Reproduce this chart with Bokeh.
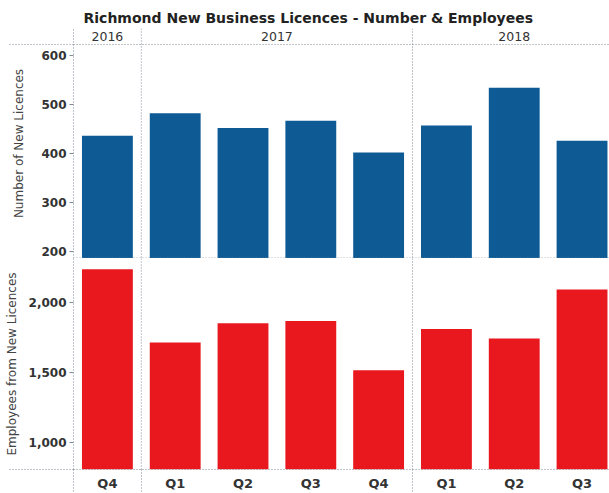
from bokeh.plotting import figure
from bokeh.models import Range1d, FixedTicker, Span, NumeralTickFormatter
from bokeh.layouts import column
from bokeh.core.properties import value
from bokeh.embed import file_html
from bokeh.resources import INLINE

# ---- data ----
title_text = "Richmond New Business Licences - Number & Employees"
quarters = ["Q4", "Q1", "Q2", "Q3", "Q4", "Q1", "Q2", "Q3"]
years = ["2016", "2017", "2018"]
year_counts = [1, 4, 3]
licences = [436, 482, 452, 467, 402, 457, 534, 426]
employees = [2240, 1715, 1853, 1869, 1516, 1811, 1743, 2095]
licence_ticks = [200, 300, 400, 500, 600]
employee_ticks = [1000, 1500, 2000]

# ---- derived positions ----
xs = [i + 0.5 for i in range(len(quarters))]
bounds = [0]
for c in year_counts:
    bounds.append(bounds[-1] + c)
year_centers = [(bounds[i] + bounds[i + 1]) / 2 for i in range(len(years))]
separators = bounds[:-1]

BLUE = "#0d5a95"
RED = "#e8181e"
LINE = "#7f8a94"
DASH = "1 2"
FONT = "DejaVu Sans"
TXT = "#333333"
LEFT = 73
LEFT_EXT = 64
W = 609

x_range = Range1d(0, 7.905)

# ---- top panel ----
TOP_Y0, TOP_Y1 = 185.7, 655.0
HEADER_LINE = 622.3
HEADER_TEXT = 638.7

p1 = figure(width=W, height=258, x_range=x_range, y_range=Range1d(TOP_Y0, TOP_Y1),
            output_backend="svg", toolbar_location=None, x_axis_location=None,
            min_border_left=LEFT, min_border_right=0, min_border_top=28, min_border_bottom=0,
            title=title_text)
p1.title.text_font = FONT
p1.title.text_font_size = "14px"
p1.title.text_font_style = "bold"
p1.title.text_color = "#222222"
p1.title.align = "left"
p1.title.offset = 10
p1.title.standoff = 6

p1.vbar(x=xs, top=licences, bottom=0, width=0.75, fill_color=BLUE, line_color=None)
p1.text(x=year_centers, y=[HEADER_TEXT] * len(years), text=years,
        text_font=value(FONT), text_font_size="12.5px", text_color=TXT,
        text_align="center", text_baseline="middle")
for s in separators[1:]:
    p1.add_layout(Span(location=s, dimension="height", line_color=LINE,
                       line_dash=DASH, line_width=1))
p1.add_layout(Span(location=HEADER_LINE, dimension="width", line_color=LINE,
                   line_dash=DASH, line_width=1))
p1.add_layout(Span(location=TOP_Y0 + 1.0, dimension="width", line_color=LINE,
                   line_dash=DASH, line_width=1))

ya = p1.yaxis[0]
ya.ticker = FixedTicker(ticks=licence_ticks, minor_ticks=[HEADER_LINE, TOP_Y0 + 1.0])
ya.axis_label = "Number of New Licences"
ya.axis_label_text_font = FONT
ya.axis_label_text_font_size = "12px"
ya.axis_label_text_font_style = "normal"
ya.axis_label_text_color = "#444444"
ya.axis_label_standoff = 12
ya.major_label_text_font = FONT
ya.major_label_text_font_size = "12px"
ya.major_label_text_font_style = "bold"
ya.major_label_text_color = TXT
ya.major_label_standoff = 7 - LEFT_EXT
ya.major_tick_out = 4
ya.major_tick_in = 0
ya.major_tick_line_color = LINE
ya.minor_tick_out = LEFT_EXT
ya.minor_tick_in = 0
ya.minor_tick_line_color = LINE
ya.minor_tick_line_dash = DASH
ya.axis_line_color = LINE
ya.axis_line_dash = DASH

p1.xgrid.visible = False
p1.ygrid.visible = False
p1.outline_line_color = None

# ---- bottom panel ----
BOT_Y0, BOT_Y1 = 803.0, 2318.0
STUB = 22
p2 = figure(width=W, height=235, x_range=x_range, y_range=Range1d(BOT_Y0, BOT_Y1),
            output_backend="svg", toolbar_location=None,
            min_border_left=LEFT, min_border_right=0, min_border_top=0, min_border_bottom=STUB)
p2.vbar(x=xs, top=employees, bottom=0, width=0.75, fill_color=RED, line_color=None)
for s in separators[1:]:
    p2.add_layout(Span(location=s, dimension="height", line_color=LINE,
                       line_dash=DASH, line_width=1))

yb = p2.yaxis[0]
yb.ticker = FixedTicker(ticks=employee_ticks, minor_ticks=[BOT_Y0 + 3.5])
yb.formatter = NumeralTickFormatter(format="0,0")
yb.axis_label = "Employees from New Licences"
yb.axis_label_text_font = FONT
yb.axis_label_text_font_size = "12px"
yb.axis_label_text_font_style = "normal"
yb.axis_label_text_color = "#444444"
yb.axis_label_standoff = 7
yb.major_label_text_font = FONT
yb.major_label_text_font_size = "12px"
yb.major_label_text_font_style = "bold"
yb.major_label_text_color = TXT
yb.major_label_standoff = 7 - LEFT_EXT
yb.major_tick_out = 4
yb.major_tick_in = 0
yb.major_tick_line_color = LINE
yb.minor_tick_out = LEFT_EXT
yb.minor_tick_in = 0
yb.minor_tick_line_color = LINE
yb.minor_tick_line_dash = DASH
yb.axis_line_color = LINE
yb.axis_line_dash = DASH

xb = p2.xaxis[0]
xb.ticker = FixedTicker(ticks=xs, minor_ticks=separators)
xb.major_label_overrides = {x: q for x, q in zip(xs, quarters)}
xb.major_label_text_font = FONT
xb.major_label_text_font_size = "13px"
xb.major_label_text_font_style = "bold"
xb.major_label_text_color = TXT
xb.major_label_standoff = 6 - STUB
xb.major_tick_out = 0
xb.major_tick_in = 0
xb.minor_tick_out = STUB
xb.minor_tick_in = 0
xb.minor_tick_line_color = LINE
xb.minor_tick_line_dash = DASH
xb.axis_line_color = LINE
xb.axis_line_dash = DASH

p2.xgrid.visible = False
p2.ygrid.visible = False
p2.outline_line_color = None

layout = column(p1, p2, spacing=0)
open("out.html", "w").write(file_html(layout, INLINE))
